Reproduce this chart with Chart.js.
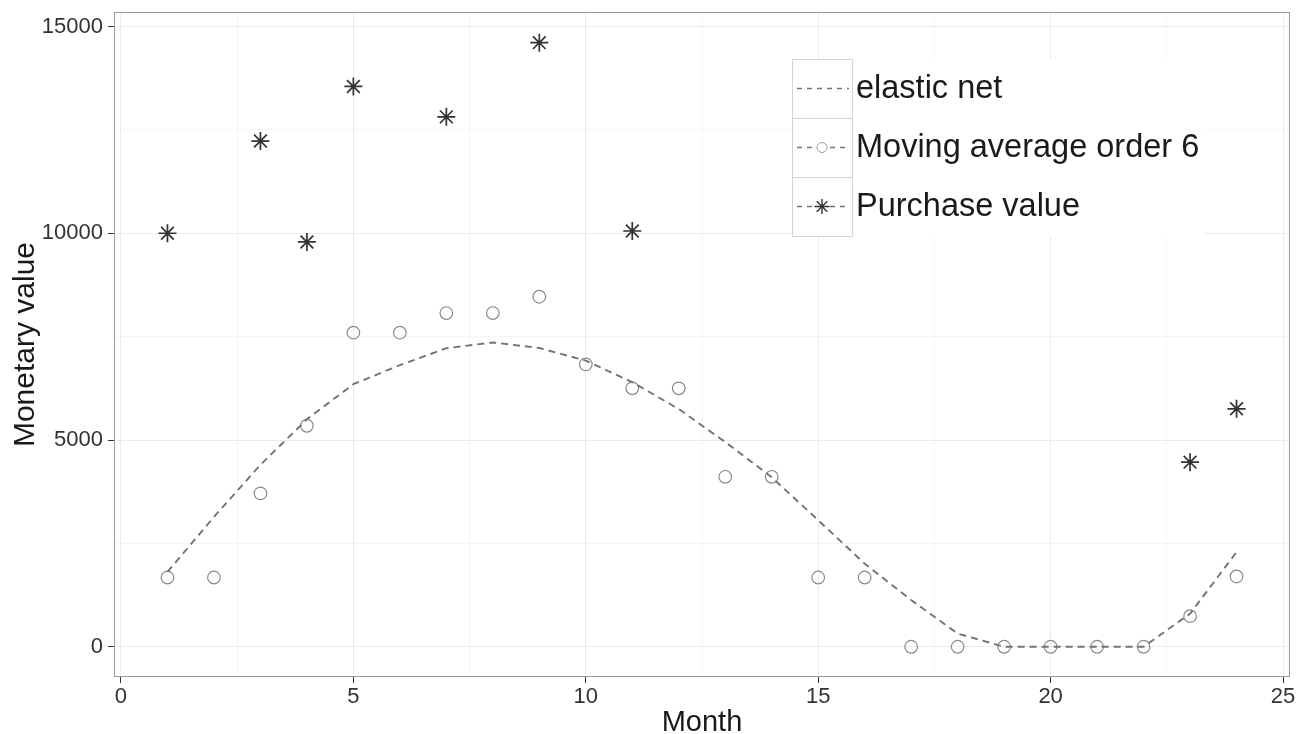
<!DOCTYPE html>
<html>
<head>
<meta charset="utf-8">
<script src="https://cdn.jsdelivr.net/npm/chart.js@4/dist/chart.umd.min.js"></script>
<style>
  html, body { margin: 0; padding: 0; background: #fff; }
</style>
</head>
<body>
<canvas id="chart" width="1311" height="734"></canvas>
<script>
// data
const months = [1, 2, 3, 4, 5, 6, 7, 8, 9, 10, 11, 12, 13, 14, 15, 16, 17, 18, 19, 20, 21, 22, 23, 24];
const elasticNet = [1810, 3140, 4400, 5500, 6350, 6810, 7220, 7360, 7225, 6920, 6400, 5750,
                    4950, 4100, 3060, 2010, 1130, 320, 0, 0, 0, 0, 800, 2290];
const movingAverage = [1675, 1675, 3710, 5345, 7595, 7595, 8070, 8070, 8465, 6830, 6250, 6250,
                       4110, 4110, 1675, 1675, 0, 0, 0, 0, 0, 0, 740, 1700];
const purchaseMonths = [1, 3, 4, 5, 7, 9, 11, 23, 24];
const purchaseValues = [10000, 12230, 9790, 13550, 12815, 14610, 10055, 4465, 5755];

const xTicks = [0, 2.5, 5, 7.5, 10, 12.5, 15, 17.5, 20, 22.5, 25];
const yTicks = [0, 2500, 5000, 7500, 10000, 12500, 15000];
const legendLabels = ['elastic net', 'Moving average order 6', 'Purchase value'];

const FONT = '"Liberation Sans", Arial, Helvetica, sans-serif';
const lineGrey = '#737373';
const circleGrey = '#8a8a8a';
const starGrey = '#333333';

const toPoints = (xs, ys) => xs.map((x, i) => ({ x: x, y: ys[i] }));

// panel border + ggplot-like legend box
const panelAndLegend = {
    id: 'panelAndLegend',
    afterDraw(chart) {
        const c = chart.ctx;
        const a = chart.chartArea;
        c.save();
        c.strokeStyle = '#9a9a9a';
        c.lineWidth = 1;
        c.strokeRect(a.left + 0.5, a.top + 0.5, a.right - a.left - 1, a.bottom - a.top - 1);

        // legend
        const lx = 792, ly = 59, keyW = 60, rowH = 59, boxW = 413;
        c.fillStyle = '#ffffff';
        c.fillRect(lx, ly, boxW, rowH * 3);
        c.strokeStyle = '#d4d4d4';
        for (let i = 0; i < 3; i++) {
            c.strokeRect(lx + 0.5, ly + i * rowH + 0.5, keyW, rowH);
        }
        legendLabels.forEach((label, i) => {
            const cy = ly + i * rowH + rowH / 2;
            const cx = lx + keyW / 2;
            c.strokeStyle = lineGrey;
            c.lineWidth = 1.5;
            c.setLineDash([5, 5]);
            c.beginPath();
            if (i === 0) {
                c.moveTo(lx + 5, cy); c.lineTo(lx + keyW - 3, cy);
            } else {
                c.moveTo(lx + 5, cy); c.lineTo(cx - 6, cy);
                c.moveTo(cx + 8, cy); c.lineTo(lx + keyW - 3, cy);
            }
            c.stroke();
            c.setLineDash([]);
            if (i === 1) {
                c.strokeStyle = '#a0a0a0';
                c.lineWidth = 1;
                c.beginPath();
                c.arc(cx, cy, 5, 0, Math.PI * 2);
                c.stroke();
            } else if (i === 2) {
                c.strokeStyle = starGrey;
                c.lineWidth = 1.4;
                c.beginPath();
                for (let k = 0; k < 4; k++) {
                    const ang = k * Math.PI / 4;
                    c.moveTo(cx - 7.5 * Math.cos(ang), cy - 7.5 * Math.sin(ang));
                    c.lineTo(cx + 7.5 * Math.cos(ang), cy + 7.5 * Math.sin(ang));
                }
                c.stroke();
            }
            c.fillStyle = '#1a1a1a';
            c.font = '32.5px ' + FONT;
            c.textBaseline = 'middle';
            c.textAlign = 'left';
            c.fillText(label, lx + keyW + 4, cy + 1);
        });
        c.restore();
    }
};

const ctx = document.getElementById('chart').getContext('2d');
new Chart(ctx, {
    type: 'scatter',
    data: {
        datasets: [
            {
                label: legendLabels[0],
                data: toPoints(months, elasticNet),
                showLine: true,
                borderColor: lineGrey,
                borderWidth: 1.9,
                borderDash: [7, 5],
                pointRadius: 0,
                tension: 0,
                fill: false
            },
            {
                label: legendLabels[1],
                data: toPoints(months, movingAverage),
                showLine: false,
                pointStyle: 'circle',
                pointRadius: 6.3,
                pointBorderWidth: 1.2,
                pointBorderColor: circleGrey,
                pointBackgroundColor: 'rgba(0,0,0,0)'
            },
            {
                label: legendLabels[2],
                data: toPoints(purchaseMonths, purchaseValues),
                showLine: false,
                pointStyle: 'star',
                pointRadius: 9,
                pointBorderWidth: 1.7,
                pointBorderColor: starGrey,
                pointBackgroundColor: starGrey
            }
        ]
    },
    options: {
        responsive: false,
        animation: false,
        layout: { padding: { top: 12, right: 21, left: 0, bottom: 0 } },
        plugins: { legend: { display: false }, tooltip: { enabled: false } },
        scales: {
            x: {
                type: 'linear',
                min: -0.15,
                max: 25.15,
                afterFit(scale) {
                    scale.height = 57;
                    scale.paddingLeft = 0;
                    scale.paddingRight = 0;
                },
                afterBuildTicks(scale) { scale.ticks = xTicks.map(v => ({ value: v })); },
                border: { display: false },
                grid: {
                    color: c => (c.tick && c.tick.value % 5 === 0) ? '#ebebeb' : '#f5f5f5',
                    tickColor: c => (c.tick && c.tick.value % 5 === 0) ? '#333333' : 'rgba(0,0,0,0)',
                    tickLength: 6,
                    lineWidth: 1
                },
                ticks: {
                    autoSkip: false,
                    maxRotation: 0,
                    padding: 3,
                    color: '#333333',
                    font: { family: FONT, size: 22, lineHeight: 1 },
                    callback: v => (v % 5 === 0 ? String(v) : '')
                },
                title: {
                    display: true,
                    text: 'Month',
                    color: '#1a1a1a',
                    font: { family: FONT, size: 29, lineHeight: 1 },
                    padding: { top: 0, bottom: -3 }
                }
            },
            y: {
                type: 'linear',
                min: -731,
                max: 15351,
                afterFit(scale) {
                    scale.width = 114;
                    scale.paddingTop = 0;
                    scale.paddingBottom = 0;
                },
                afterBuildTicks(scale) { scale.ticks = yTicks.map(v => ({ value: v })); },
                border: { display: false },
                grid: {
                    color: c => (c.tick && c.tick.value % 5000 === 0) ? '#ebebeb' : '#f5f5f5',
                    tickColor: c => (c.tick && c.tick.value % 5000 === 0) ? '#333333' : 'rgba(0,0,0,0)',
                    tickLength: 6,
                    lineWidth: 1
                },
                ticks: {
                    autoSkip: false,
                    padding: 5,
                    color: '#333333',
                    font: { family: FONT, size: 22, lineHeight: 1 },
                    callback: v => (v % 5000 === 0 ? String(v) : '')
                },
                title: {
                    display: true,
                    text: 'Monetary value',
                    color: '#1a1a1a',
                    font: { family: FONT, size: 30, lineHeight: 1 },
                    padding: { top: 11, bottom: 0 }
                }
            }
        }
    },
    plugins: [panelAndLegend]
});
</script>
</body>
</html>
